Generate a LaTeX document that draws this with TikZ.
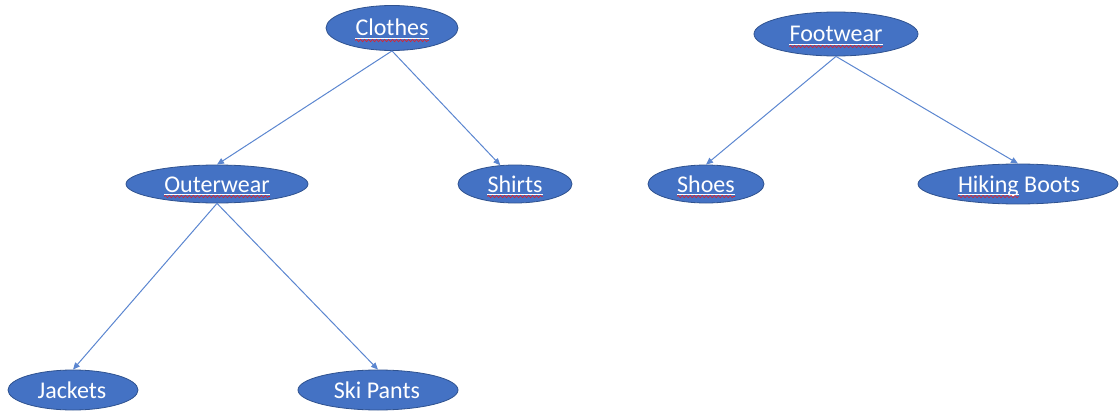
\documentclass[tikz,border=0pt]{standalone}
\usepackage{fontspec}
\setmainfont{Carlito}
\usetikzlibrary{shapes.geometric,arrows.meta,decorations.pathmorphing}
\definecolor{ofblue}{HTML}{4472C4}
\definecolor{ofedge}{HTML}{2F528F}
\definecolor{lineblue}{HTML}{5B86D0}
\definecolor{squigred}{HTML}{E0202A}
\newlength\hikw
\tikzset{
 ell/.style={ellipse, draw=ofedge, line width=0.8pt, fill=ofblue, inner sep=0pt},
 lbl/.style={text=white, font=\fontsize{24}{28}\selectfont, inner sep=0pt, anchor=base},
 conn/.style={draw=lineblue, line width=1pt, -{Triangle[length=7pt,width=6pt]}},
 wavy/.style={draw=squigred, line width=0.6pt, decorate, decoration={snake, amplitude=1.2pt, segment length=4pt}},
 uline/.style={draw=white, line width=0.7pt}
}
\begin{document}
\settowidth{\hikw}{\fontsize{24}{28}\selectfont Hiking}%
\begin{tikzpicture}[x=1pt,y=-1pt]
\useasboundingbox (0,0) rectangle (1120,412);
% ellipses
\node[ell, minimum width=132pt, minimum height=45pt] (clothes) at (392,28) {};
\node[ell, minimum width=164pt, minimum height=44pt] (footwear) at (836,34) {};
\node[ell, minimum width=182pt, minimum height=38pt] (outer) at (217,184) {};
\node[ell, minimum width=114pt, minimum height=38pt] (shirts) at (515,184) {};
\node[ell, minimum width=116pt, minimum height=38pt] (shoes) at (706,184) {};
\node[ell, minimum width=200pt, minimum height=40pt] (hiking) at (1018,184) {};
\node[ell, minimum width=130pt, minimum height=40pt] (jackets) at (73,390) {};
\node[ell, minimum width=160pt, minimum height=40pt] (ski) at (378,390) {};
% labels
\node[lbl] (clothesT) at (392,36) {Clothes};
\node[lbl] (footwearT) at (836,42) {Footwear};
\node[lbl] (outerT) at (217,192) {Outerwear};
\node[lbl] (shirtsT) at (515,192) {Shirts};
\node[lbl] (shoesT) at (706,192) {Shoes};
\node[lbl] (hikingT) at (1019,192) {Hiking Boots};
\node[lbl] (jacketsT) at (72,398) {Jackets};
\node[lbl] (skiT) at (377,398) {Ski Pants};
\coordinate (hikend) at ([xshift=\hikw]hikingT.base west);
% underlines and spell-check squiggles
\foreach \n in {clothesT,footwearT,outerT,shirtsT,shoesT}{
  \draw[uline] ([yshift=-2pt]\n.base west) -- ([yshift=-2pt]\n.base east);
  \draw[wavy] ([yshift=-4.5pt]\n.base west) -- ([yshift=-4.5pt]\n.base east);
}
\draw[uline] ([yshift=-2pt]hikingT.base west) -- ([yshift=-2pt]hikend);
\draw[wavy] ([yshift=-4.5pt]hikingT.base west) -- ([yshift=-4.5pt]hikend);
% connectors
\draw[conn] (clothes.south) -- (outer.north);
\draw[conn] (clothes.south) -- (shirts.128);
\draw[conn] (outer.south) -- (jackets.north);
\draw[conn] (outer.south) -- (ski.north);
\draw[conn] (footwear.south) -- (shoes.north);
\draw[conn] (footwear.south) -- (hiking.north);
\end{tikzpicture}
\end{document}
